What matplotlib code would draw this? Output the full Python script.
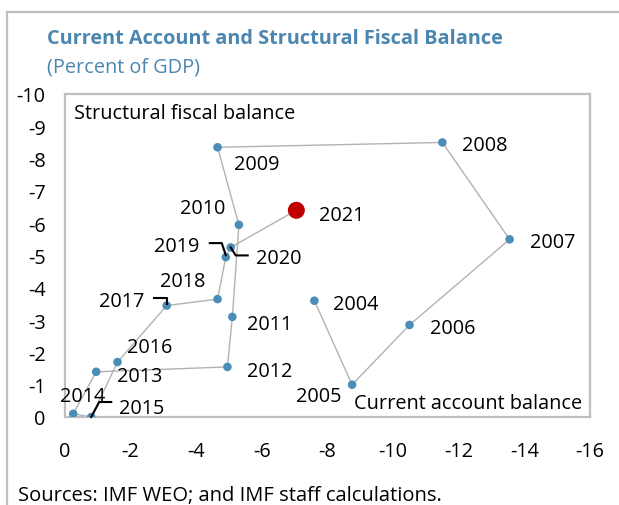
import matplotlib
matplotlib.use("Agg")
import matplotlib.pyplot as plt
from matplotlib.lines import Line2D
from matplotlib.transforms import IdentityTransform

plt.rcParams["font.family"] = ["Open Sans", "DejaVu Sans"]

# data (percent of GDP)
years = [2004, 2005, 2006, 2007, 2008, 2009, 2010, 2011, 2012,
         2013, 2014, 2015, 2016, 2017, 2018, 2019, 2020, 2021]
current_account = [-7.6, -8.75, -10.5, -13.55, -11.5, -4.65, -5.3, -5.1, -4.95,
                   -0.95, -0.25, -0.8, -1.6, -3.1, -4.65, -4.9, -5.05, -7.05]
structural_fiscal = [-3.6, -1.0, -2.85, -5.5, -8.5, -8.35, -5.95, -3.1, -1.55,
                     -1.4, -0.1, 0.0, -1.7, -3.45, -3.65, -4.95, -5.25, -6.4]

x_ticks = [0, -2, -4, -6, -8, -10, -12, -14, -16]
y_ticks = [0, -1, -2, -3, -4, -5, -6, -7, -8, -9, -10]

TITLE = "Current Account and Structural Fiscal Balance"
SUBTITLE = "(Percent of GDP)"
SOURCE = "Sources: IMF WEO; and IMF staff calculations."

BLUE = "#4a8db5"
TITLE_BLUE = "#4a86b0"
RED = "#c00000"
FRAME = "#bfbfbf"
FS = 14.3

# label offsets in pixels (dx right, dy down) relative to each point, plus alignment
label_pos = {
    2004: (19, 3, "left"), 2005: (-11, 11, "right"),
    2006: (20, 3, "left"), 2007: (20, 3, "left"),
    2008: (20, 3, "left"), 2009: (16, 17, "left"),
    2010: (-14, -17, "right"), 2011: (15, 7, "left"),
    2012: (20, 4, "left"), 2013: (21, 4, "left"),
    2014: (9, -18, "center"), 2015: (28, -9, "left"),
    2016: (9, -15, "left"), 2017: (-22, -5, "right"),
    2018: (-35, -18, "center"), 2019: (-26, -11, "right"),
    2020: (25, 11, "left"), 2021: (23, 5, "left"),
}
# leader lines: pixel offsets from the point (dx right, dy down)
leaders = {
    2015: [(0, 0), (8, -15), (20, -15)],
    2017: [(0, -2), (0, -8), (-13, -8)],
    2019: [(0, -2), (-4, -14), (-16, -14)],
    2020: [(0, 0), (5, 8), (17, 8)],
}

fig = plt.figure(figsize=(6.19, 5.06), dpi=100)
W, H = 619, 506

# outer frame (only left and top edges visible in the crop)
fig.add_artist(Line2D([7 / W, 7 / W], [0, 1 - 13 / H], transform=fig.transFigure,
                      color=FRAME, lw=1.6))
fig.add_artist(Line2D([7 / W, 1], [1 - 13 / H, 1 - 13 / H], transform=fig.transFigure,
                      color=FRAME, lw=1.6))

ax = fig.add_axes([65 / W, 1 - 418 / H, 525 / W, 323 / H])
ax.set_xlim(0, -16)
ax.set_ylim(0, -10)
for s in ax.spines.values():
    s.set_color(FRAME)
    s.set_linewidth(1.6)
ax.set_xticks(x_ticks, [str(v) for v in x_ticks])
ax.set_yticks(y_ticks, [str(v) for v in y_ticks])
ax.tick_params(axis="x", length=0, pad=17.5, labelsize=FS)
ax.tick_params(axis="y", length=0, pad=14, labelsize=FS)

ax.plot(current_account, structural_fiscal, color="#b3b3b3", lw=1.0, zorder=2)
ax.scatter(current_account[:-1], structural_fiscal[:-1], s=38, color=BLUE,
           edgecolors="none", zorder=3)
ax.scatter(current_account[-1:], structural_fiscal[-1:], s=150, color=RED,
           edgecolors="none", zorder=4)

for yr, x, y in zip(years, current_account, structural_fiscal):
    dx, dy, ha = label_pos[yr]
    ax.annotate(str(yr), (x, y), xytext=(dx, -dy), textcoords="offset pixels",
                ha=ha, va="center", fontsize=FS, color="black")

fig.canvas.draw()
for yr, pts in leaders.items():
    i = years.index(yr)
    px, py = ax.transData.transform((current_account[i], structural_fiscal[i]))
    xs = [px + dx for dx, dy in pts]
    ys = [py - dy for dx, dy in pts]
    fig.add_artist(Line2D(xs, ys, transform=IdentityTransform(), color="black", lw=1.5,
                          zorder=5))

ax.text(0.018, 0.94, "Structural fiscal balance", transform=ax.transAxes,
        ha="left", va="center", fontsize=FS)
ax.text(0.985, 0.042, "Current account balance", transform=ax.transAxes,
        ha="right", va="center", fontsize=FS)

fig.text(47 / W, 1 - 39 / H, TITLE, ha="left", va="center", fontsize=FS,
         fontweight="bold", color=TITLE_BLUE)
fig.text(47 / W, 1 - 67 / H, SUBTITLE, ha="left", va="center", fontsize=FS,
         color=TITLE_BLUE)
fig.text(18 / W, 1 - 496 / H, SOURCE, ha="left", va="center", fontsize=14.5)

fig.savefig("out.png", dpi=100)
